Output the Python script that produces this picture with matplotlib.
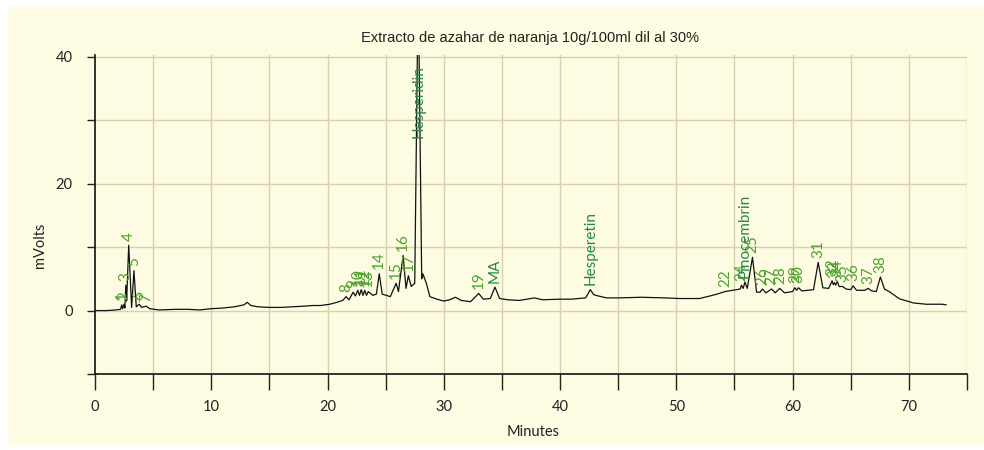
import matplotlib
matplotlib.use('Agg')
import matplotlib.pyplot as plt
from matplotlib.patches import Rectangle
from matplotlib.ticker import FixedLocator, FixedFormatter

# chromatogram trace, vertices (minutes, mV)
trace_t = [0.0, 1.0, 1.8, 2.2, 2.3, 2.38, 2.5, 2.57, 2.65, 2.72, 2.9, 3.15, 3.35, 3.55,
           3.8, 4.0, 4.4, 4.7, 5.5, 7.0, 8.0, 9.0, 10.0, 11.0, 12.0, 12.8, 13.1, 13.4,
           14.0, 15.0, 16.0, 17.0, 18.0, 18.7, 19.4, 20.2, 20.8, 21.3, 21.6, 21.85, 22.2,
           22.4, 22.6, 22.75, 22.9, 23.05, 23.2, 23.35, 23.5, 23.9, 24.2, 24.45, 24.7,
           25.4, 25.9, 26.1, 26.5, 26.75, 26.95, 27.2, 27.5, 27.8, 28.1, 28.2, 28.5,
           28.8, 29.4, 30.0, 30.5, 31.0, 31.5, 32.3, 33.0, 33.4, 34.0, 34.4, 34.8, 35.5,
           36.5, 37.8, 38.5, 40.0, 41.0, 42.2, 42.6, 42.9, 43.3, 44.0, 45.0, 47.0, 49.0,
           50.3, 52.0, 53.1, 53.5, 54.2, 55.2, 55.5, 55.6, 55.75, 55.9, 56.1, 56.55,
           56.9, 57.2, 57.4, 57.7, 58.2, 58.5, 58.9, 59.3, 60.0, 60.2, 60.35, 60.5,
           60.8, 61.8, 62.2, 62.6, 63.1, 63.4, 63.5, 63.6, 63.7, 63.85, 64.0, 64.3,
           64.6, 65.0, 65.2, 65.5, 66.2, 66.5, 66.8, 67.2, 67.55, 67.9, 68.3, 69.2,
           70.4, 71.5, 72.9, 73.2]
trace_v = [0.0, 0.0, 0.1, 0.2, 0.9, 0.3, 1.0, 0.4, 4.0, 1.5, 10.3, 0.5, 6.3, 0.6,
           1.0, 0.5, 0.7, 0.3, 0.1, 0.2, 0.2, 0.1, 0.3, 0.4, 0.6, 0.9, 1.3, 0.8,
           0.6, 0.5, 0.5, 0.6, 0.7, 0.8, 0.8, 1.0, 1.3, 1.6, 2.2, 1.7, 2.9,
           2.3, 3.2, 2.4, 3.3, 2.4, 3.2, 2.4, 3.0, 2.4, 2.6, 5.8, 2.6,
           2.2, 4.3, 3.0, 8.7, 3.5, 5.5, 3.8, 4.3, 52.0, 5.0, 5.8, 4.3,
           2.2, 1.8, 1.5, 1.7, 2.1, 1.6, 1.4, 2.7, 1.8, 1.9, 3.7, 1.9, 1.7,
           1.6, 2.0, 1.7, 1.8, 1.8, 2.0, 3.3, 2.5, 2.3, 2.0, 2.0, 2.1, 2.0,
           1.9, 1.9, 2.4, 2.6, 3.0, 3.3, 3.4, 4.0, 3.5, 4.5, 3.5, 8.4,
           2.9, 2.9, 3.4, 2.8, 3.4, 2.8, 3.5, 2.8, 3.0, 3.6, 3.2, 3.6,
           3.1, 3.3, 7.6, 3.6, 3.5, 4.7, 4.1, 4.4, 4.0, 4.6, 3.8, 3.8,
           3.4, 3.3, 3.9, 3.2, 3.2, 3.5, 3.1, 3.0, 5.3, 3.4, 3.0, 1.85,
           1.2, 1.0, 1.0, 0.9]

# peak labels
peak_names = ['1', '2', '3', '4', '5', '6', '7', '8', '9', '10', '11', '12', '13',
              '14', '15', '16', '17', 'Hesperidin', '19', 'MA', 'Hesperetin', '22',
              '24', 'Pinocembrin', '25', '26', '27', '28', '29', '30', '31', '32',
              '33', '34', '35', '36', '37', '38']
peak_t = [2.3, 2.5, 2.65, 2.9, 3.35, 3.8, 4.4, 21.6, 22.2, 22.6, 22.9, 23.2, 23.5,
          24.45, 25.9, 26.5, 26.95, 27.8, 33.0, 34.4, 42.6, 54.2,
          55.6, 55.9, 56.55, 57.4, 58.2, 58.9, 60.2, 60.5, 62.2, 63.4,
          63.6, 63.85, 64.3, 65.2, 66.5, 67.55]
peak_v = [0.9, 1.0, 4.0, 10.3, 6.3, 1.0, 0.7, 2.2, 2.9, 3.2, 3.3, 3.2, 3.0,
          5.8, 4.3, 8.7, 5.5, 52.0, 2.7, 3.7, 3.3, 3.0,
          4.0, 4.5, 8.4, 3.4, 3.4, 3.5, 3.6, 3.6, 7.6, 4.7,
          4.4, 4.6, 3.8, 3.9, 3.5, 5.3]
named = ['Hesperidin', 'MA', 'Hesperetin', 'Pinocembrin']

title = 'Extracto de azahar de naranja 10g/100ml dil al 30%'

cream = '#fdfbe1'
gridc = '#d9d0ad'

fig = plt.figure(figsize=(9.84, 4.5), dpi=100, facecolor='white')
fig.patches.append(Rectangle((8 / 984, 5 / 450), 1, 1 - 12 / 450,
                             transform=fig.transFigure, facecolor=cream,
                             edgecolor='none', zorder=-5))

ax = fig.add_axes([95 / 984, 1 - 374 / 450, 872 / 984, 319 / 450])
ax.set_facecolor(cream)
ax.set_xlim(0, 75)
ax.set_ylim(-10, 40.3)

ax.plot(trace_t, trace_v, color='#111111', lw=0.9, zorder=3)

for name, t, v in zip(peak_names, peak_t, peak_v):
    col = '#25874a' if name in named else '#4fa22e'
    ax.text(t, min(v, 26.5) + 0.7, name, rotation=90, ha='center', va='bottom',
            color=col, fontsize=11, family='Lato', zorder=4)

# grid: every 5 min, every 10 mV
for gx in range(5, 80, 5):
    ax.axvline(gx, color=gridc, lw=1, zorder=1)
for gy in range(0, 50, 10):
    ax.axhline(gy, color=gridc, lw=1, zorder=1)

ax.xaxis.set_major_locator(FixedLocator(list(range(0, 80, 5))))
ax.xaxis.set_major_formatter(FixedFormatter([str(v) if v % 10 == 0 else ''
                                             for v in range(0, 80, 5)]))
ax.yaxis.set_major_locator(FixedLocator([-10, 0, 10, 20, 30, 40]))
ax.yaxis.set_major_formatter(FixedFormatter(['', '0', '', '20', '', '40']))
ax.tick_params(axis='x', direction='out', length=11.5, width=1, pad=7,
               labelsize=10.5, colors='#222222')
ax.tick_params(axis='y', direction='out', length=6, width=1, pad=10,
               labelsize=10.5, colors='#222222')
for lab in ax.get_xticklabels() + ax.get_yticklabels():
    lab.set_family('Lato')

for s in ['top', 'right']:
    ax.spines[s].set_visible(False)
for s in ['left', 'bottom']:
    ax.spines[s].set_color('#111111')
    ax.spines[s].set_linewidth(1.2)

fig.text(530 / 984, 1 - 38 / 450, title, ha='center', va='center',
         fontsize=10.5, family='Liberation Sans', color='#222222')
fig.text(40 / 984, 1 - 245 / 450, 'mVolts', rotation=90, ha='center', va='center',
         fontsize=10.5, family='Lato', color='#222222')
fig.text(533 / 984, 1 - 432 / 450, 'Minutes', ha='center', va='center',
         fontsize=10.5, family='Lato', color='#222222')

fig.savefig('out.png', dpi=100, facecolor=fig.get_facecolor())
